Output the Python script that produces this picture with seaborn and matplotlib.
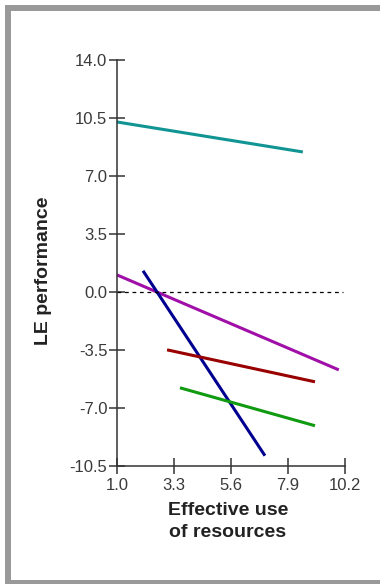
import numpy as np
import pandas as pd
import matplotlib
matplotlib.use("Agg")
import matplotlib.pyplot as plt
from matplotlib.lines import Line2D
import seaborn as sns

# Linjer lest av figuren (start- og sluttpunkt)
teal_x = [1.0, 8.5]
teal_y = [10.26, 8.45]
magenta_x = [1.0, 9.95]
magenta_y = [1.03, -4.7]
blue_x = [2.05, 6.97]
blue_y = [1.28, -9.88]
red_x = [3.02, 8.99]
red_y = [-3.49, -5.42]
green_x = [3.54, 8.99]
green_y = [-5.78, -8.07]

x_ticks = [1.0, 3.3, 5.6, 7.9, 10.2]
y_ticks = [-10.5, -7.0, -3.5, 0.0, 3.5, 7.0, 10.5, 14.0]

farger = {
    "teal": "#109494",
    "magenta": "#a010a8",
    "blue": "#000090",
    "red": "#990000",
    "green": "#109a10",
}

# Bygger en lang tabell for seaborn
deler = []
for navn, xs, ys in [("teal", teal_x, teal_y), ("magenta", magenta_x, magenta_y),
                     ("blue", blue_x, blue_y), ("red", red_x, red_y),
                     ("green", green_x, green_y)]:
    deler.append(pd.DataFrame({"x": xs, "y": ys, "serie": navn}))
df = pd.concat(deler, ignore_index=True)

sns.set_theme(style="white")
plt.rcParams["font.family"] = ["Liberation Sans", "DejaVu Sans"]

fig = plt.figure(figsize=(3.8, 5.84), dpi=100)
ax = fig.add_axes([117 / 380, 1 - 466 / 584, 228 / 380, 406 / 584])

sns.lineplot(data=df, x="x", y="y", hue="serie", palette=farger,
             linewidth=2.2, legend=False, ax=ax, estimator=None, sort=False)
for line in ax.lines:
    line.set_clip_on(False)
    line.set_solid_capstyle("butt")

# Stiplet nulllinje
ax.plot([1.0, 10.1], [0, 0], color="black", linestyle=(0, (3, 3)), linewidth=0.9)

ax.set_xlim(1.0, 10.2)
ax.set_ylim(-10.5, 14.0)
ax.set_xticks(x_ticks)
ax.set_xticklabels([f"{v:.1f}" for v in x_ticks])
ax.set_yticks(y_ticks)
ax.set_yticklabels([f"{v:.1f}" for v in y_ticks])

sns.despine(ax=ax)
for side in ["left", "bottom"]:
    ax.spines[side].set_color("#333333")
    ax.spines[side].set_linewidth(1.1)

ax.tick_params(axis="both", bottom=True, left=True, direction="inout",
               length=12, width=1.1, color="#333333", labelcolor="#3a3a3a",
               labelsize=12, pad=1)
ax.tick_params(axis="x", pad=3)

ax.set_xlabel("Effective use\nof resources", fontsize=14, fontweight="bold",
              color="#222222", linespacing=1.4)
ax.set_ylabel("LE performance", fontsize=14, fontweight="bold",
              color="#222222")
ax.xaxis.set_label_coords(0.487, -0.088)
ax.yaxis.set_label_coords(-0.285, 0.48)

# Grå ramme (venstre, topp, bunn)
ramme = dict(color="#999999", linewidth=4.3, transform=fig.transFigure,
             solid_capstyle="projecting")
fig.add_artist(Line2D([8 / 380, 8 / 380], [1 / 584, 1 - 8 / 584], **ramme))
fig.add_artist(Line2D([8 / 380, 1.0], [1 - 8 / 584, 1 - 8 / 584], **ramme))
fig.add_artist(Line2D([8 / 380, 1.0], [1 / 584, 1 / 584], **ramme))

fig.savefig("out.png", dpi=100)
